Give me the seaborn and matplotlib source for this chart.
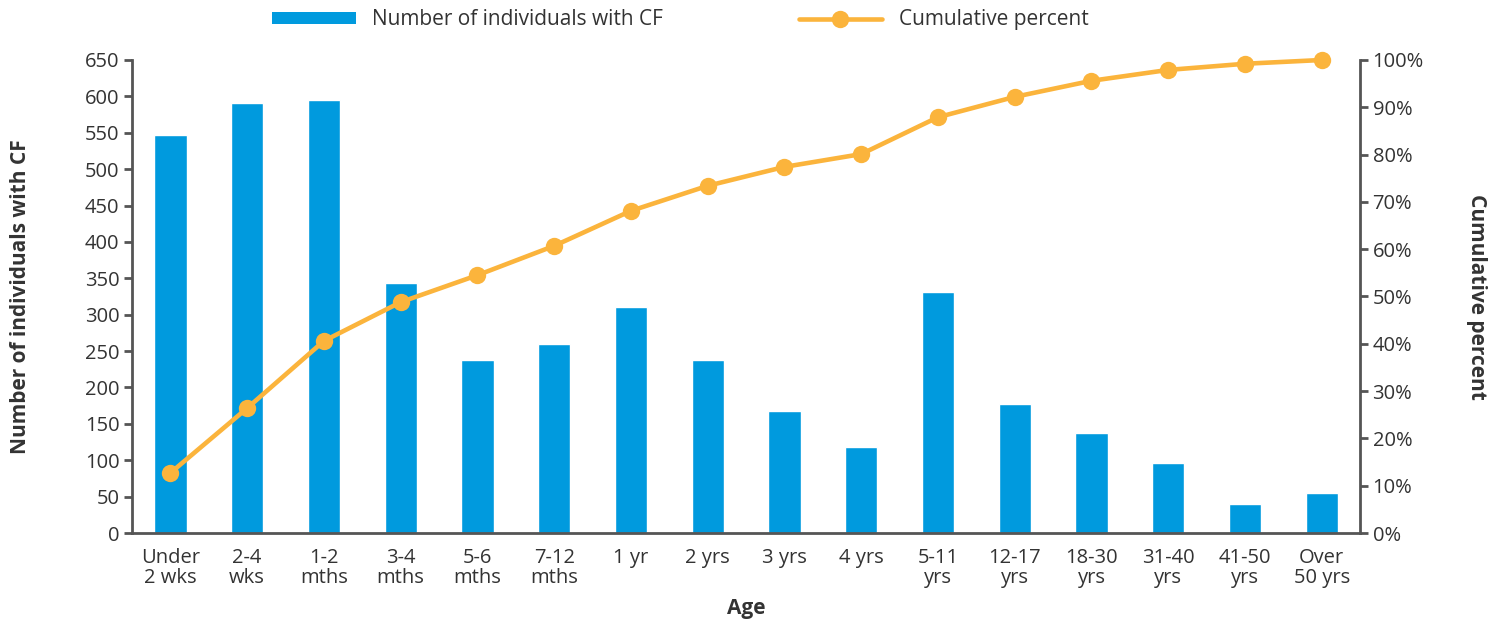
import numpy as np
import pandas as pd
import matplotlib
matplotlib.use("Agg")
import matplotlib.pyplot as plt
from matplotlib.patches import Patch
from matplotlib.lines import Line2D
from matplotlib.ticker import FuncFormatter
import seaborn as sns

# ======= data ========

age_groups = ["Under\n2 wks", "2-4\nwks", "1-2\nmths", "3-4\nmths", "5-6\nmths",
              "7-12\nmths", "1 yr", "2 yrs", "3 yrs", "4 yrs", "5-11\nyrs",
              "12-17\nyrs", "18-30\nyrs", "31-40\nyrs", "41-50\nyrs", "Over\n50 yrs"]
n_individuals = [547, 591, 595, 344, 238, 260, 311, 238, 168, 118, 331, 177, 137, 96, 40, 55]
cum_percent = [12.7, 26.4, 40.6, 48.8, 54.5, 60.7, 68.1, 73.4, 77.4, 80.1, 87.9,
               92.2, 95.6, 97.9, 99.2, 100.0]

bar_color = "#009ADE"
line_color = "#FBB43C"
axis_color = "#555555"
text_color = "#333333"

df = pd.DataFrame({"Age": age_groups, "Count": n_individuals, "Cum": cum_percent})
df["pos"] = np.arange(len(df))

# ======= plot ========

sns.set_style("white")
plt.rcParams["font.family"] = ["Open Sans", "DejaVu Sans"]
plt.rcParams["text.color"] = text_color

fig = plt.figure(figsize=(15.02, 6.21), dpi=100)
ax = fig.add_axes([0.0879, 0.1417, 0.8176, 0.7617])

sns.barplot(data=df, x="Age", y="Count", color=bar_color, width=0.42,
            saturation=1, ax=ax, zorder=2)

ax2 = ax.twinx()
sns.lineplot(data=df, x="pos", y="Cum", color=line_color, lw=3.3, marker="o",
             markersize=12.5, markeredgewidth=0, ax=ax2, zorder=3, clip_on=False)

ax.set_xlim(-0.5, len(df) - 0.5)
ax.set_ylim(0, 650)
ax.set_yticks(np.arange(0, 651, 50))
ax2.set_ylim(0, 100)
ax2.set_yticks(np.arange(0, 101, 10))
ax2.yaxis.set_major_formatter(FuncFormatter(lambda v, p: f"{int(v)}%"))

# category ticks between bars
ax.set_xticks(np.arange(len(df)))
ax.set_xticklabels(age_groups, linespacing=1.0)
ax.set_xticks(np.arange(-0.5, len(df)), minor=True)
ax.tick_params(axis="x", which="major", length=0, pad=11, labelsize=14.5, colors=text_color)
ax.tick_params(axis="x", which="minor", length=9, width=2, color=axis_color, direction="out")
ax.tick_params(axis="y", length=6, width=2, color=axis_color, labelsize=14.5, labelcolor=text_color, pad=3)
ax2.tick_params(axis="y", length=6, width=2, color=axis_color, labelsize=14.5, labelcolor=text_color, pad=3)

for a in (ax, ax2):
    for s in a.spines.values():
        s.set_visible(False)
ax.spines["left"].set_visible(True)
ax.spines["bottom"].set_visible(True)
ax2.spines["right"].set_visible(True)
for s in (ax.spines["left"], ax.spines["bottom"], ax2.spines["right"]):
    s.set_color(axis_color)
    s.set_linewidth(2)

ax.set_xlabel("Age", fontsize=15, fontweight="bold", color=text_color)
ax.xaxis.set_label_coords(0.5, -0.137)
ax.set_ylabel("Number of individuals with CF", fontsize=15, fontweight="bold",
              color=text_color)
ax.yaxis.set_label_coords(-0.082, 0.5)
ax2.set_ylabel("Cumulative percent", fontsize=15, fontweight="bold", color=text_color,
               rotation=270, va="bottom")
ax2.yaxis.set_label_coords(1.086, 0.5)

handles = [Patch(facecolor=bar_color, edgecolor="none"),
           Line2D([0], [0], color=line_color, lw=3.3, marker="o", markersize=12.5,
                  markeredgewidth=0)]
fig.legend(handles, ["Number of individuals with CF", "Cumulative percent"],
           loc="center", bbox_to_anchor=(0.453, 0.968), ncol=2, frameon=False,
           fontsize=15, handlelength=4.0, handleheight=0.55, handletextpad=0.8,
           columnspacing=6.5)

fig.savefig("out.png", dpi=100)
